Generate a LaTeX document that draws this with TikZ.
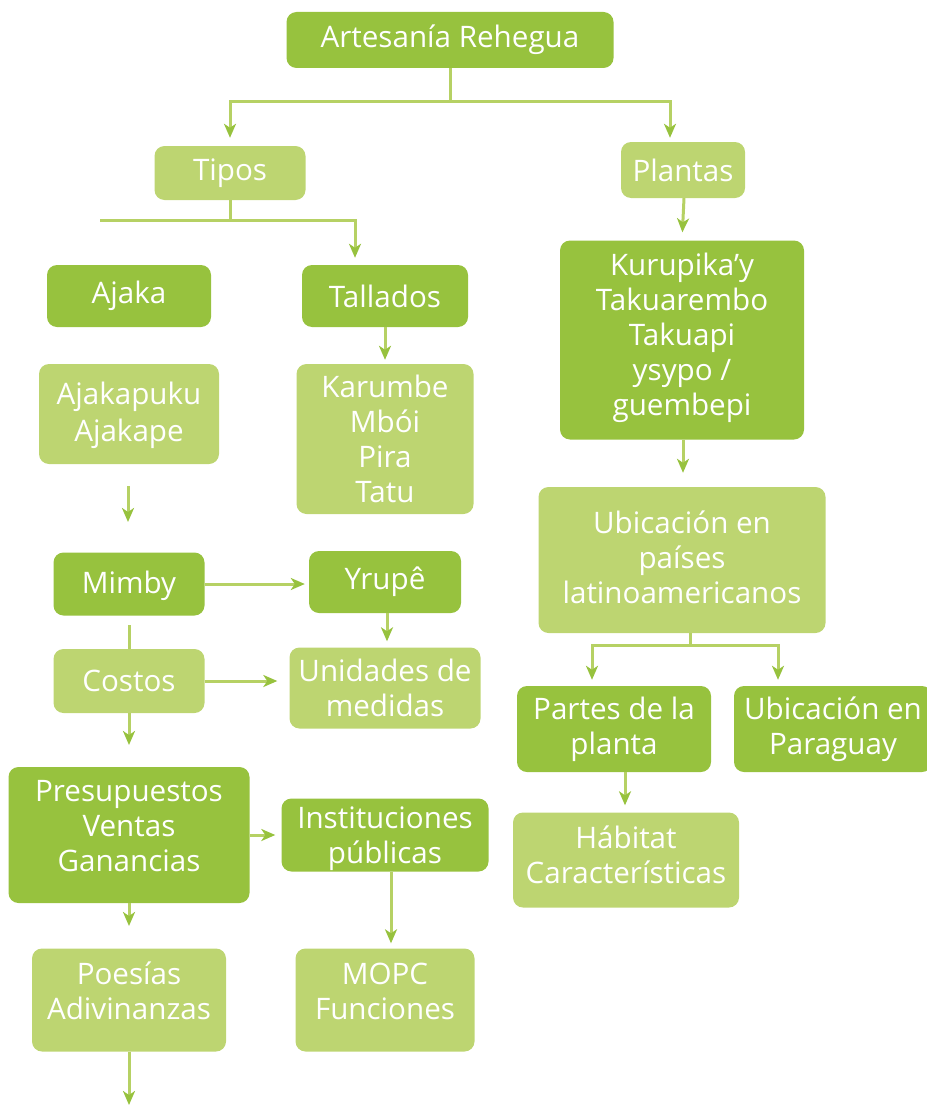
\documentclass[tikz,border=0pt]{standalone}
\usepackage{fontspec}
\setmainfont{Open Sans}
\usetikzlibrary{arrows.meta,calc}
\definecolor{dgreen}{RGB}{151,194,62}
\definecolor{lgreen}{RGB}{189,213,113}
\definecolor{lnk}{RGB}{182,209,100}
\tikzset{
  box/.style={rounded corners=10pt, inner sep=0pt},
  darkbox/.style={box, fill=dgreen},
  lightbox/.style={box, fill=lgreen},
  boxtext/.style={inner sep=0pt, text=white, align=center,
    font=\fontsize{29.6}{35}\selectfont},
  wire/.style={draw=lnk, line width=3pt},
  arr/.style={wire, -{Stealth[length=14pt,width=12pt,inset=4pt,color=dgreen]}},
}
% #1 style, #2 name, #3 centre, #4 width, #5 height, #6 text, #7 text raise
\newcommand{\bx}[7]{%
  \node[#1, minimum width=#4pt, minimum height=#5pt] (#2) at (#3) {};
  \node[boxtext, yshift=#7pt] (#2-t) at (#2.center) {#6};}
\begin{document}
\begin{tikzpicture}[x=1pt,y=-1pt]
\useasboundingbox (0,0) rectangle (926,1105);

% boxes
\bx{darkbox}{art}{450,40}{327}{56}{Artesanía Rehegua}{0}
\bx{lightbox}{tipos}{230,173}{151}{54}{Tipos}{0}
\bx{lightbox}{plantas}{683,170}{124}{56}{Plantas}{0}
\bx{darkbox}{ajaka}{129,296}{164}{62}{Ajaka}{0}
\bx{darkbox}{tallados}{385,296}{166}{62}{Tallados}{0}
\bx{lightbox}{ajakap}{129,414}{180}{100}{Ajakapuku\\[2pt]Ajakape}{-1}
\bx{lightbox}{karumbe}{385,439}{177}{150}{Karumbe\\Mbói\\Pira\\Tatu}{0}
\bx{darkbox}{mimby}{129,584}{151}{63}{Mimby}{-2}
\bx{darkbox}{yrupe}{385,582}{152}{62}{Yrupê}{0}
\bx{lightbox}{costos}{129,681}{151}{64}{Costos}{0}
\bx{lightbox}{unidades}{385,688}{191}{81}{Unidades de\\medidas}{0}
\bx{darkbox}{presup}{129,835}{241}{136}{Presupuestos\\Ventas\\Ganancias}{9}
\bx{darkbox}{instit}{385,835}{207}{73}{Instituciones\\públicas}{-4}
\bx{lightbox}{poesias}{129,1000}{194}{103}{Poesías\\Adivinanzas}{9}
\bx{lightbox}{mopc}{385,1000}{179}{103}{MOPC\\Funciones}{9}
\bx{darkbox}{kuru}{682,340}{244}{199}{Kurupika’y\\Takuarembo\\Takuapi\\ysypo /\\guembepi}{2}
\bx{lightbox}{ubic}{682,560}{287}{146}{Ubicación en\\países\\latinoamericanos}{3}
\bx{darkbox}{partes}{614,729}{194}{86}{Partes de la\\planta}{0}
\bx{darkbox}{ubpar}{833,729}{198}{86}{Ubicación en\\Paraguay}{0}
\bx{lightbox}{habitat}{626,860}{226}{95}{Hábitat\\Características}{5}

% junction points and free ends
\coordinate (j1) at (450,102);
\coordinate (j2) at (230,220);
\coordinate (tl) at (100,220);
\coordinate (f1) at (128,486);
\coordinate (f2) at (128,522);
\coordinate (m1) at (129,625);
\coordinate (c1) at (129,745);
\coordinate (p1) at (129,926);
\coordinate (q1) at (129,1105);
\coordinate (j3) at (690,645);

% connectors
\draw[wire] (art.south) -- (j1);
\draw[arr, shorten >=8pt] (j1) -| (tipos.north);
\draw[arr, shorten >=4pt] (j1) -| ([xshift=-13pt]plantas.north);
\draw[wire] (tipos.south) -- (j2);
\draw[wire] (tl) -- (j2);
\draw[arr, shorten >=7pt] (j2) -| ([xshift=-30pt]tallados.north);
\draw[arr, shorten >=4pt] (tallados.south) -- (karumbe.north);
\draw[arr] (f1) -- (f2);
\draw[arr, shorten >=4pt] (mimby.east) -- (yrupe.west |- mimby.east);
\draw[arr, shorten >=6pt] ([xshift=2pt]yrupe.south) -- ([xshift=2pt]unidades.north);
\draw[wire] (m1) -- (costos.north);
\draw[arr, shorten >=12pt] (costos.east) -- (unidades.west |- costos.east);
\draw[arr] (costos.south) -- (c1);
\draw[arr, shorten >=6pt] (presup.east) -- (instit.west);
\draw[arr] (presup.south) -- (p1);
\draw[arr, shorten >=5pt] ([xshift=6pt]instit.south) -- ([xshift=6pt]mopc.north);
\draw[arr] (poesias.south) -- (q1);
\draw[arr, shorten >=8pt] ([xshift=1pt]plantas.south) -- (kuru.north);
\draw[arr, shorten >=14pt] ([xshift=1pt]kuru.south) -- ([xshift=1pt]ubic.north);
\draw[wire] ([xshift=8pt]ubic.south) -- (j3);
\draw[arr, shorten >=6pt] (j3) -| ([xshift=-22pt]partes.north);
\draw[arr, shorten >=6pt] (j3) -| ([xshift=-55pt]ubpar.north);
\draw[arr, shorten >=7pt] ([xshift=11pt]partes.south) -- ([xshift=-1pt]habitat.north);
\end{tikzpicture}
\end{document}
